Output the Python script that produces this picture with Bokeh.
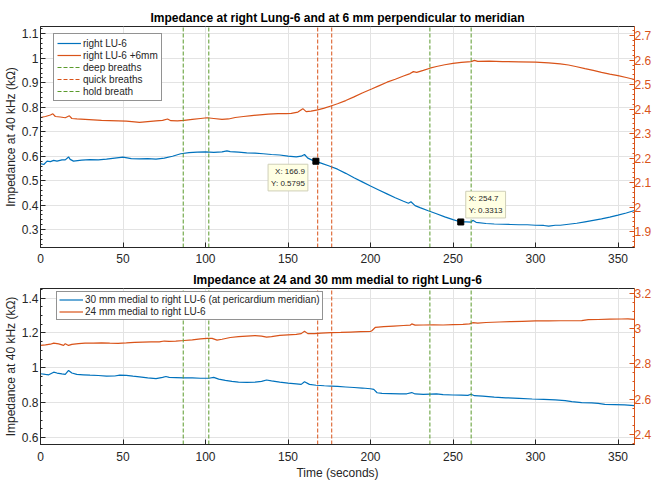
import numpy as np
from bokeh.plotting import figure
from bokeh.models import Range1d, LinearAxis, Label, FixedTicker
from bokeh.layouts import column
from bokeh.embed import file_html
from bokeh.resources import INLINE

# ---------------- data ----------------
# top panel: right LU-6 (left axis, kOhm)
top_blue_t = [0, 2, 4, 6, 8, 10, 13, 15, 17, 18, 20, 25, 30, 35, 40, 45, 50, 55, 60, 65, 70, 75, 80, 85,
              90, 95, 100, 105, 110, 113, 115, 120, 125, 130, 135, 140, 145, 150, 155, 158, 160, 162, 165,
              166.9, 170, 175, 180, 185, 190, 195, 200, 205, 210, 215, 220, 223, 224.5, 227, 230, 235, 240,
              245, 250, 254.7, 258, 261, 262, 264, 270, 275, 280, 285, 290, 295, 300, 305, 308, 312, 315,
              320, 325, 330, 335, 340, 345, 350, 355, 360]
top_blue_v = [0.570, 0.566, 0.580, 0.578, 0.583, 0.580, 0.585, 0.585, 0.597, 0.587, 0.580, 0.584, 0.586,
              0.585, 0.588, 0.592, 0.596, 0.590, 0.589, 0.590, 0.588, 0.592, 0.600, 0.610, 0.615, 0.617,
              0.618, 0.616, 0.618, 0.622, 0.619, 0.617, 0.614, 0.613, 0.610, 0.607, 0.605, 0.600, 0.597,
              0.600, 0.607, 0.592, 0.583, 0.5795, 0.572, 0.560, 0.547, 0.530, 0.512, 0.495, 0.478, 0.462,
              0.446, 0.430, 0.416, 0.408, 0.414, 0.398, 0.390, 0.377, 0.365, 0.352, 0.341, 0.3313, 0.332,
              0.331, 0.338, 0.330, 0.325, 0.323, 0.322, 0.321, 0.320, 0.320, 0.318, 0.317, 0.314, 0.318,
              0.318, 0.322, 0.326, 0.332, 0.338, 0.344, 0.351, 0.359, 0.368, 0.378]
# top panel: right LU-6 +6mm (right axis, kOhm)
top_orange_t = [0, 3, 6, 7.5, 9, 12, 15, 17.5, 19, 22, 27, 32, 37, 42, 47, 52, 57, 60, 65, 70, 74, 77, 79,
                83, 87, 92, 97, 101, 105, 110, 114, 118, 123, 128, 133, 138, 144, 149, 152, 156, 159, 161,
                164, 168, 172, 176, 180, 185, 190, 195, 201, 205, 210, 215, 220, 224, 226, 228, 232, 236,
                240, 245, 250, 255, 261, 263, 265, 272, 280, 290, 300, 308, 315, 320, 325, 330, 335, 340,
                345, 350, 355, 360]
top_orange_v = [2.366, 2.370, 2.376, 2.381, 2.370, 2.368, 2.365, 2.373, 2.362, 2.360, 2.358, 2.356, 2.354,
                2.353, 2.352, 2.351, 2.348, 2.346, 2.349, 2.352, 2.354, 2.360, 2.353, 2.352, 2.354, 2.358,
                2.362, 2.365, 2.362, 2.358, 2.360, 2.366, 2.370, 2.374, 2.377, 2.380, 2.382, 2.382, 2.383,
                2.388, 2.402, 2.390, 2.392, 2.397, 2.404, 2.413, 2.422, 2.435, 2.450, 2.466, 2.483, 2.495,
                2.510, 2.522, 2.535, 2.545, 2.553, 2.550, 2.558, 2.567, 2.574, 2.581, 2.587, 2.591, 2.594,
                2.599, 2.595, 2.596, 2.594, 2.593, 2.592, 2.589, 2.585, 2.580, 2.573, 2.565, 2.558, 2.550,
                2.543, 2.537, 2.529, 2.521]

# bottom panel: 30 mm medial (left axis)
bot_blue_t = [0, 3, 5, 8, 10, 13, 15, 17, 19, 22, 26, 30, 35, 40, 45, 48, 52, 56, 60, 65, 70, 74, 76, 78,
              82, 87, 92, 97, 102, 105, 108, 112, 116, 120, 125, 130, 134, 137, 140, 145, 150, 155, 158,
              160, 163, 167, 172, 176, 180, 185, 190, 195, 200, 202, 204, 207, 212, 218, 222, 225, 227,
              232, 236, 240, 244, 250, 255, 259, 261, 263, 268, 275, 282, 290, 298, 305, 312, 318, 322,
              328, 334, 338, 342, 348, 354, 360]
bot_blue_v = [0.966, 0.962, 0.960, 0.975, 0.970, 0.965, 0.962, 0.985, 0.970, 0.962, 0.960, 0.958, 0.956,
              0.952, 0.953, 0.958, 0.957, 0.952, 0.948, 0.942, 0.938, 0.945, 0.950, 0.945, 0.944, 0.942,
              0.942, 0.940, 0.940, 0.945, 0.935, 0.928, 0.922, 0.918, 0.916, 0.918, 0.922, 0.930, 0.925,
              0.918, 0.912, 0.908, 0.905, 0.920, 0.905, 0.900, 0.897, 0.895, 0.893, 0.890, 0.887, 0.884,
              0.880, 0.876, 0.857, 0.853, 0.852, 0.850, 0.851, 0.858, 0.850, 0.848, 0.849, 0.850, 0.846,
              0.844, 0.843, 0.842, 0.848, 0.840, 0.837, 0.832, 0.828, 0.825, 0.821, 0.819, 0.816, 0.812,
              0.806, 0.800, 0.799, 0.796, 0.790, 0.789, 0.787, 0.783]
# bottom panel: 24 mm medial (right axis)
bot_orange_t = [0, 3, 6, 8, 11, 14, 15, 17, 19, 23, 27, 32, 37, 42, 47, 52, 57, 62, 67, 72, 75, 78, 82, 87,
                92, 97, 101, 104, 107, 110, 115, 120, 125, 130, 134, 137, 140, 145, 150, 155, 158, 160, 162,
                166, 170, 176, 182, 188, 194, 200, 201, 203, 208, 214, 220, 224, 225, 227, 232, 238, 244,
                250, 256, 260, 262, 265, 270, 278, 285, 292, 300, 308, 315, 322, 328, 332, 338, 345, 352,
                356, 360]
bot_orange_v = [2.905, 2.908, 2.912, 2.918, 2.914, 2.905, 2.915, 2.905, 2.911, 2.915, 2.918, 2.918, 2.920,
                2.918, 2.917, 2.919, 2.922, 2.924, 2.925, 2.925, 2.930, 2.928, 2.930, 2.933, 2.937, 2.942,
                2.945, 2.945, 2.935, 2.940, 2.950, 2.955, 2.958, 2.961, 2.958, 2.952, 2.955, 2.962, 2.965,
                2.968, 2.972, 2.985, 2.972, 2.972, 2.975, 2.978, 2.979, 2.981, 2.983, 2.984, 2.990, 3.008,
                3.012, 3.015, 3.018, 3.020, 3.027, 3.020, 3.021, 3.022, 3.021, 3.023, 3.025, 3.027, 3.034,
                3.032, 3.035, 3.038, 3.040, 3.042, 3.044, 3.044, 3.045, 3.045, 3.046, 3.051, 3.052, 3.054,
                3.055, 3.056, 3.053]

deep_breaths = [86.5, 102]
quick_breaths = [168, 176.5]
hold_breath = [236, 261]

tip_x = [166.9, 254.7]
tip_y = [0.5795, 0.3313]

x_ticks = [0, 50, 100, 150, 200, 250, 300, 350]
top_left_ticks = [0.3, 0.4, 0.5, 0.6, 0.7, 0.8, 0.9, 1.0, 1.1]
top_right_ticks = [1.9, 2.0, 2.1, 2.2, 2.3, 2.4, 2.5, 2.6, 2.7]
bot_left_ticks = [0.6, 0.8, 1.0, 1.2, 1.4]
bot_right_ticks = [2.4, 2.6, 2.8, 3.0, 3.2]

# ---------------- style ----------------
FONT = "Liberation Sans"
BLUE = "#0072BD"
ORANGE = "#D95319"
GREEN = "#5a9a2c"
DARK = "#262626"
GRID = "#e3e3e3"


def minor(ticks, n):
    step = (ticks[1] - ticks[0]) / n
    return list(np.arange(2 * ticks[0] - ticks[1], ticks[-1] + (ticks[1] - ticks[0]) + 1e-9, step))


def style_axis(ax, color, ticks, nminor, overrides=None):
    ax.ticker = FixedTicker(ticks=ticks, minor_ticks=minor(ticks, nminor) if nminor else [])
    ax.axis_line_color = color
    ax.major_tick_line_color = color
    ax.minor_tick_line_color = color
    ax.major_label_text_color = color
    ax.major_label_text_font = FONT
    ax.major_label_text_font_size = "12px"
    ax.major_tick_in = 5
    ax.major_tick_out = 0
    ax.minor_tick_in = 2
    ax.minor_tick_out = 0
    ax.major_label_standoff = 2
    ax.axis_label_text_font = FONT
    ax.axis_label_text_font_size = "12px"
    ax.axis_label_text_font_style = "normal"
    ax.axis_label_text_color = DARK
    ax.axis_label_standoff = 1
    if overrides:
        ax.major_label_overrides = overrides


def make_fig(h, title, yl, yr, lt, rt, nminor, overrides_l, overrides_r, xlabel, mbt, mbb, xstand):
    p = figure(width=654, height=h, output_backend="svg", toolbar_location=None,
               x_range=Range1d(0, 360), y_range=Range1d(*yl),
               min_border_left=0, min_border_right=0, min_border_top=mbt, min_border_bottom=mbb)
    p.extra_y_ranges = {"right": Range1d(*yr)}
    p.title.text = title
    p.title.align = "center"
    p.title.text_font = FONT
    p.title.text_font_size = "12px"
    p.title.text_font_style = "bold"
    p.title.text_color = "#000000"
    p.title.standoff = 4
    p.outline_line_color = DARK
    p.background_fill_color = "white"
    p.border_fill_color = "white"
    p.xgrid.grid_line_color = GRID
    p.ygrid.grid_line_color = GRID
    style_axis(p.xaxis[0], DARK, x_ticks, 0)
    p.xaxis[0].major_label_standoff = xstand
    if xlabel:
        p.xaxis[0].axis_label = xlabel
        p.xaxis[0].axis_label_standoff = 2
    style_axis(p.yaxis[0], DARK, lt, nminor, overrides_l)
    p.yaxis[0].axis_label = "Impedance at 40 kHz (k\u03a9)"
    rax = LinearAxis(y_range_name="right")
    style_axis(rax, ORANGE, rt, nminor, overrides_r)
    rax.major_label_standoff = 0
    p.add_layout(rax, "right")
    return p


def style_legend(leg, loc, pad, lh, sp):
    leg.location = loc
    leg.label_text_font = FONT
    leg.label_text_font_size = "10px"
    leg.label_text_color = DARK
    leg.glyph_width = 24
    leg.glyph_height = lh
    leg.label_height = lh
    leg.spacing = sp
    leg.padding = pad
    leg.margin = 0
    leg.label_standoff = 2
    leg.border_line_color = DARK
    leg.border_line_width = 1
    leg.background_fill_alpha = 1


# ---------------- top ----------------
yl1 = (0.227, 1.13)
yr1 = (1.836, 2.737)
p1 = make_fig(268, "Impedance at right Lung-6 and at 6 mm perpendicular to meridian", yl1, yr1,
              top_left_ticks, top_right_ticks, 5, {1.0: "1"}, {2.0: "2"}, None, 26, 21, 6)
p1.line(top_blue_t, top_blue_v, color=BLUE, line_width=1.2, legend_label="right LU-6")
p1.line(top_orange_t, top_orange_v, color=ORANGE, line_width=1.2, y_range_name="right",
        legend_label="right LU-6 +6mm")
for xs, col, lab in [(deep_breaths, GREEN, "deep breaths"), (quick_breaths, ORANGE, "quick breaths"),
                     (hold_breath, GREEN, "hold breath")]:
    p1.segment(x0=xs, x1=xs, y0=[yl1[0]] * len(xs), y1=[yl1[1]] * len(xs), color=col,
               line_width=1, line_dash="4 2", legend_label=lab)
p1.scatter(tip_x, tip_y, marker="square", size=6, color="black")
for i, (ta, tb, dx, dy) in enumerate([("right", "top", -8, -3), ("left", "bottom", 5, 4)]):
    p1.add_layout(Label(x=tip_x[i], y=tip_y[i], text="X: %s\nY: %s" % (tip_x[i], tip_y[i]),
                        text_font=FONT, text_font_size="8px", text_color=DARK, text_line_height=1.3,
                        text_align=ta, text_baseline=tb, x_offset=dx, y_offset=dy,
                        background_fill_color="#ffffe3", border_line_color="#cfcfb8",
                        padding=3))
style_legend(p1.legend[0], (13, 146), 3, 12, 0)

# ---------------- bottom ----------------
yl2 = (0.56, 1.455)
yr2 = (2.343, 3.228)
p2 = make_fig(214, "Impedance at 24 and 30 mm medial to right Lung-6", yl2, yr2,
              bot_left_ticks, bot_right_ticks, 4, {1.0: "1"}, {3.0: "3"}, "Time (seconds)", 20, 36, 7)
p2.line(bot_blue_t, bot_blue_v, color=BLUE, line_width=1.2,
        legend_label="30 mm medial to right LU-6 (at pericardium meridian)")
p2.line(bot_orange_t, bot_orange_v, color=ORANGE, line_width=1.2, y_range_name="right",
        legend_label="24 mm medial to right LU-6")
for xs, col in [(deep_breaths, GREEN), (quick_breaths, ORANGE), (hold_breath, GREEN)]:
    p2.segment(x0=xs, x1=xs, y0=[yl2[0]] * len(xs), y1=[yl2[1]] * len(xs), color=col,
               line_width=1, line_dash="4 2")
style_legend(p2.legend[0], (16, 124), 2, 11, 1)

layout = column(p1, p2, spacing=0)
open("out.html", "w").write(file_html(layout, INLINE))
